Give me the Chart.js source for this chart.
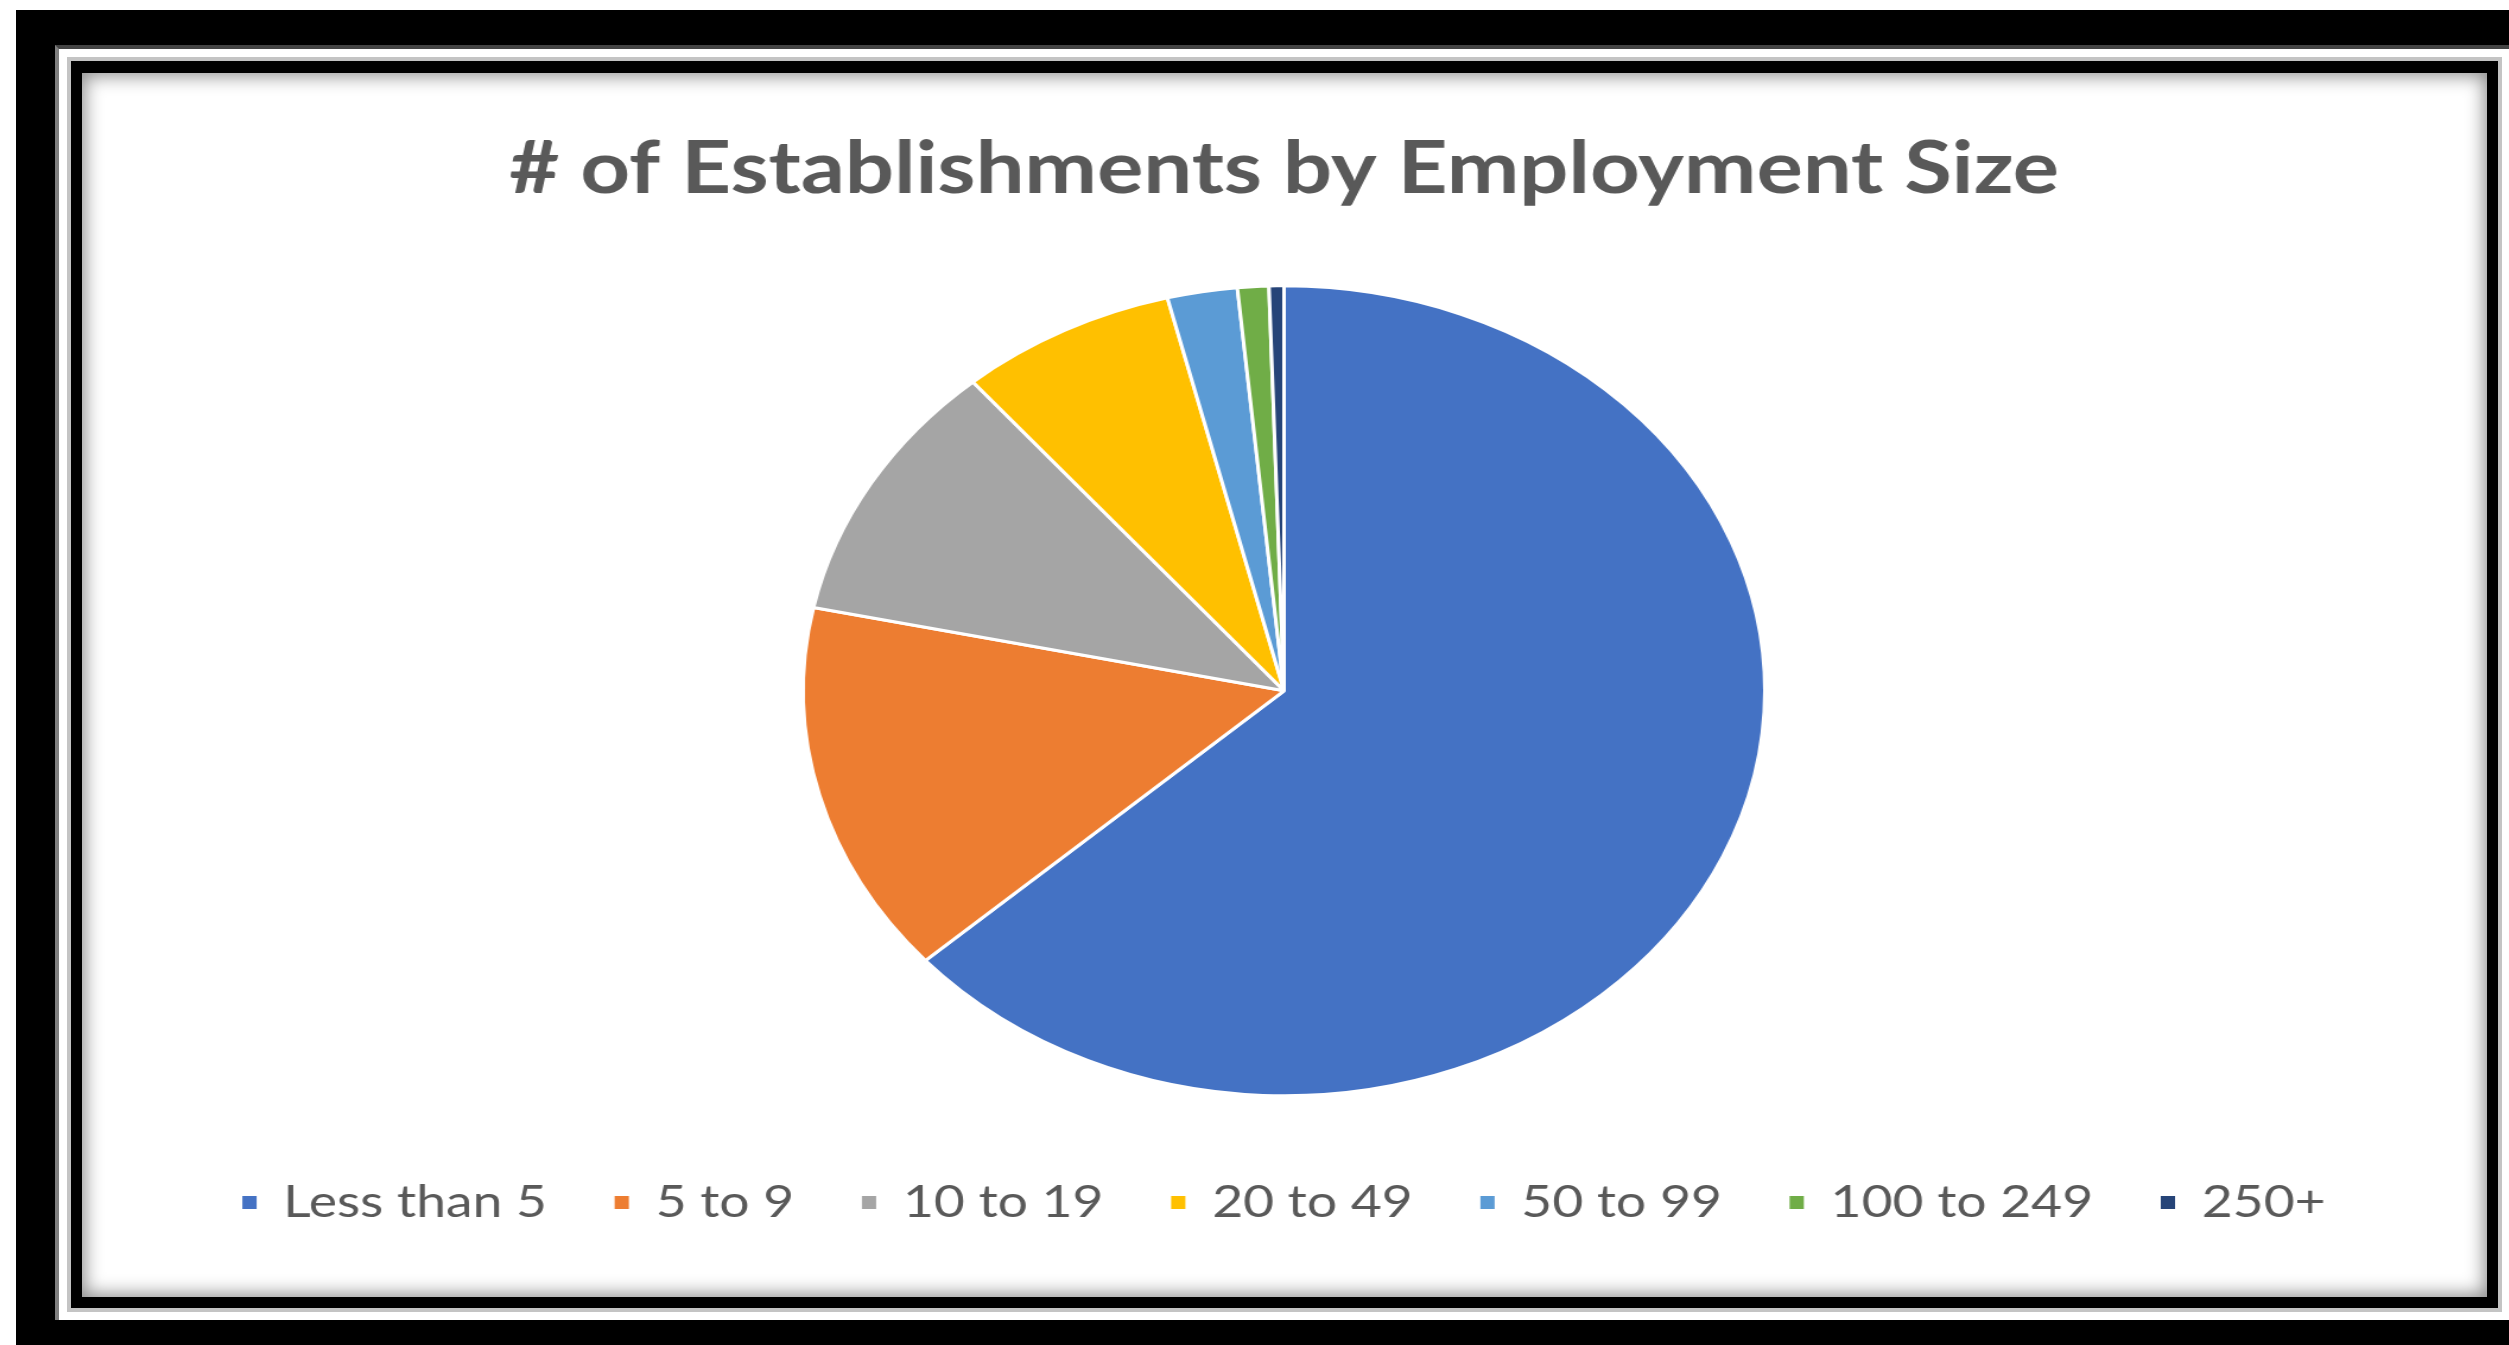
<!DOCTYPE html>
<html lang="en">
<head>
    <meta charset="UTF-8">
    <title># of Establishments by Employment Size</title>
    <script src="https://cdn.jsdelivr.net/npm/chart.js"></script>
    <style>
        html, body { margin: 0; padding: 0; background: #fff; overflow: hidden; }
        body { width: 2509px; height: 1345px; position: relative; }
        .outer {
            position: absolute; left: 16px; top: 10px; width: 2600px; height: 1346px;
            box-sizing: border-box; border: 36px solid #000; border-top-width: 35px; border-left-width: 39px;
        }
        .gap {
            position: absolute; left: 55px; top: 45px; width: 2600px; height: 1275px;
            box-sizing: border-box; border-left: 4px solid #808080; border-top: 4px solid #444;
        }
        .frame {
            position: absolute; left: 71px; top: 61px; width: 2427px; height: 1247px;
            box-sizing: border-box; border: 11px solid #000; border-top-width: 12px;
            background: #fff; box-shadow: 0 0 0 4px #c4c4c4, inset 0 0 18px 3px rgba(0,0,0,0.45);
        }
        /* the whole chart in the picture is stretched sideways, so draw it narrow and scale it */
        .chart-box {
            position: absolute; left: 82px; top: 73px; width: 2025px; height: 1224px;
            transform: scaleX(1.1872); transform-origin: 0 0;
        }
    </style>
</head>
<body>
    <div class="outer"></div>
    <div class="gap"></div>
    <div class="frame"></div>
    <div class="chart-box"><canvas id="grafico"></canvas></div>

    <script>
        const categories = ['Less than 5', '5 to 9', '10 to 19', '20 to 49', '50 to 99', '100 to 249', '250+'];
        const shares = [63.4, 14.9, 10.5, 7.3, 2.35, 1.05, 0.5];
        const sliceColors = ['#4472C4', '#ED7D31', '#A5A5A5', '#FFC000', '#5B9BD5', '#70AD47', '#264478'];
        const chartTitle = '# of Establishments by Employment Size';

        const baseLabels = (Chart.overrides.doughnut || Chart.overrides.pie).plugins.legend.labels.generateLabels;

        const ctx = document.getElementById('grafico').getContext('2d');
        new Chart(ctx, {
            type: 'pie',
            data: {
                labels: categories,
                datasets: [{
                    data: shares,
                    backgroundColor: sliceColors,
                    borderColor: '#ffffff',
                    borderWidth: 3,
                    radius: 405
                }]
            },
            options: {
                responsive: true,
                maintainAspectRatio: false,
                animation: false,
                layout: { padding: { top: 0, bottom: 62, left: 0, right: 0 } },
                plugins: {
                    title: {
                        display: true,
                        text: chartTitle,
                        color: '#595959',
                        font: { family: 'Lato', size: 73, weight: 'bold' },
                        padding: { top: 53, bottom: 45 }
                    },
                    legend: {
                        position: 'bottom',
                        labels: {
                            color: '#595959',
                            font: { family: 'Lato', size: 45 },
                            boxWidth: 12,
                            boxHeight: 13,
                            padding: 57,
                            generateLabels: (chart) => baseLabels(chart).map(l => ({ ...l, lineWidth: 0, strokeStyle: l.fillStyle }))
                        }
                    },
                    tooltip: { enabled: false }
                }
            }
        });
    </script>
</body>
</html>
